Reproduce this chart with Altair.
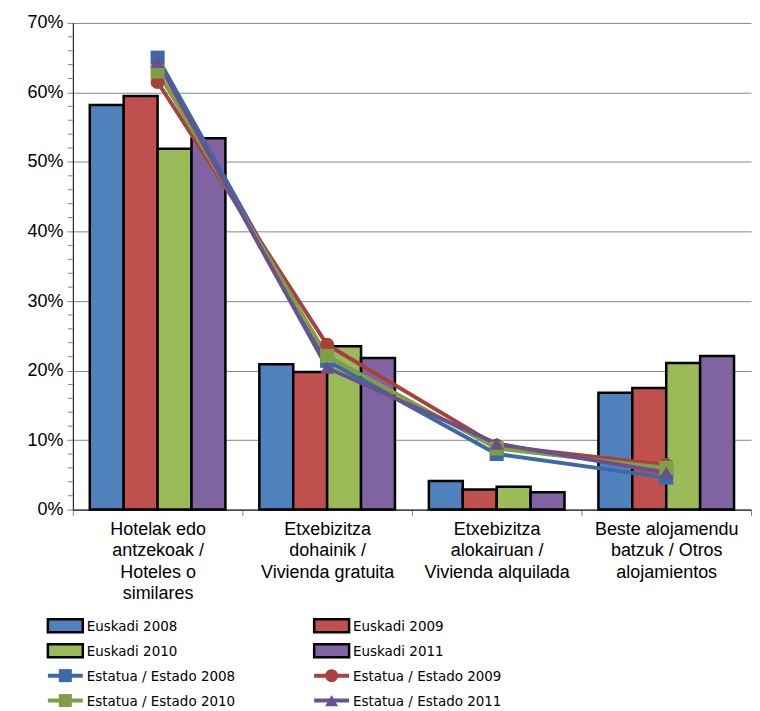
import altair as alt
import pandas as pd

categories = [
    "Hotelak edo|antzekoak /|Hoteles o|similares",
    "Etxebizitza|dohainik /|Vivienda gratuita",
    "Etxebizitza|alokairuan /|Vivienda alquilada",
    "Beste alojamendu|batzuk / Otros|alojamientos",
]
years = ["2008", "2009", "2010", "2011"]

euskadi_2008 = [58.2, 20.9, 4.1, 16.8]
euskadi_2009 = [59.5, 19.8, 2.9, 17.5]
euskadi_2010 = [51.9, 23.5, 3.3, 21.1]
euskadi_2011 = [53.4, 21.8, 2.5, 22.1]

estado_2008 = [65.0, 21.4, 8.0, 4.6]
estado_2009 = [61.5, 23.7, 9.2, 6.4]
estado_2010 = [63.0, 22.1, 8.8, 6.0]
estado_2011 = [64.4, 20.4, 9.5, 5.3]

major_ticks = [0.0, 0.1, 0.2, 0.3, 0.4, 0.5, 0.6, 0.7]
minor_ticks = [0.02, 0.04, 0.06, 0.08, 0.12, 0.14, 0.16, 0.18, 0.22, 0.24, 0.26, 0.28,
               0.32, 0.34, 0.36, 0.38, 0.42, 0.44, 0.46, 0.48, 0.52, 0.54, 0.56, 0.58,
               0.62, 0.64, 0.66, 0.68]

bar_colors = ["#4F81BD", "#C0504D", "#9BBB59", "#8064A2"]
line_colors = ["#3D6AA6", "#A8413D", "#7E9F45", "#69508F"]
line_shapes = ["square", "circle", "square", "triangle-up"]

bar_names = ["Euskadi " + y for y in years]
line_names = ["Estatua / Estado " + y for y in years]

eus = [euskadi_2008, euskadi_2009, euskadi_2010, euskadi_2011]
est = [estado_2008, estado_2009, estado_2010, estado_2011]

bars_df = pd.DataFrame([
    {"cat": c, "series": bar_names[i], "value": eus[i][j] / 100}
    for i in range(4) for j, c in enumerate(categories)
])
lines_df = pd.DataFrame([
    {"cat": c, "series": line_names[i], "value": est[i][j] / 100}
    for i in range(4) for j, c in enumerate(categories)
])
minor_df = pd.DataFrame({"v": minor_ticks})

FONT = "Liberation Sans"
LEG_FONT = "DejaVu Sans Condensed"
W, H = 680, 488

xenc = alt.X(
    "cat:N", sort=categories,
    scale=alt.Scale(paddingInner=0, paddingOuter=0),
    axis=alt.Axis(
        title=None, labelAngle=0, labelExpr="split(datum.label, '|')",
        labelFontSize=18, labelFont=FONT, labelColor="#000000",
        labelLineHeight=21.5, labelPadding=5, tickBand="extent",
        tickSize=6, tickColor="#868686", domainColor="#000000",
        grid=False, labelBaseline="top",
    ),
)
yscale = alt.Scale(domain=[0, 0.7], nice=False)

bars = alt.Chart(bars_df).mark_bar(stroke="#000000", strokeWidth=2.5).encode(
    x=xenc,
    xOffset=alt.XOffset("series:N", sort=bar_names,
                        scale=alt.Scale(paddingInner=0, paddingOuter=0.5)),
    y=alt.Y("value:Q", scale=yscale,
            axis=alt.Axis(
                title=None, format=".0%", values=major_ticks,
                labelFontSize=18, labelFont=FONT, labelColor="#000000",
                labelPadding=4, tickSize=6, tickColor="#868686",
                domainColor="#000000", gridColor="#868686", gridWidth=1,
            )),
    fill=alt.Fill("series:N", sort=bar_names,
                  scale=alt.Scale(domain=bar_names, range=bar_colors), legend=None),
)

minor = alt.Chart(minor_df).mark_rule(color="#868686", strokeWidth=1).encode(
    y=alt.Y("v:Q", scale=yscale),
    x=alt.value(-5),
    x2=alt.value(0),
)

lines = alt.Chart(lines_df).mark_line(strokeWidth=4).encode(
    x=alt.X("cat:N", sort=categories),
    y=alt.Y("value:Q", scale=yscale),
    color=alt.Color("series:N", sort=line_names,
                    scale=alt.Scale(domain=line_names, range=line_colors), legend=None),
)
points = alt.Chart(lines_df).mark_point(filled=True, opacity=1, size=200).encode(
    x=alt.X("cat:N", sort=categories),
    y=alt.Y("value:Q", scale=yscale),
    color=alt.Color("series:N", sort=line_names,
                    scale=alt.Scale(domain=line_names, range=line_colors), legend=None),
    shape=alt.Shape("series:N", sort=line_names,
                    scale=alt.Scale(domain=line_names, range=line_shapes), legend=None),
)

main = alt.layer(bars, minor, lines, points).properties(width=W, height=H)

# ---- custom legend: two columns, four rows ----
leg_labels = bar_names + line_names
leg_kind = ["bar"] * 4 + ["line"] * 4
leg_color = bar_colors + line_colors
leg_shape = ["none"] * 4 + line_shapes
leg_row = [0, 0, 1, 1, 2, 2, 3, 3]
leg_col = [0, 1, 0, 1, 0, 1, 0, 1]

COL_W = 267
SYM_X0 = -25
SYM_W = 35

leg_df = pd.DataFrame({
    "label": leg_labels, "kind": leg_kind, "ccolor": leg_color,
    "shp": leg_shape, "r": leg_row,
    "x0": [c * COL_W + SYM_X0 for c in leg_col],
    "x1": [c * COL_W + SYM_X0 + SYM_W for c in leg_col],
    "xm": [c * COL_W + SYM_X0 + SYM_W / 2 for c in leg_col],
    "xt": [c * COL_W + SYM_X0 + SYM_W + 4 for c in leg_col],
})

lx = alt.Scale(domain=[0, W])
ly = alt.Scale(domain=[0, 1, 2, 3], paddingInner=0, paddingOuter=0)
yrow = alt.Y("r:O", scale=ly, axis=None)
ccol = alt.Color("ccolor:N", scale=None)

leg_base = alt.Chart(leg_df)
leg_rect = leg_base.transform_filter("datum.kind == 'bar'").mark_bar(
    size=13, stroke="#000000", strokeWidth=2.5
).encode(
    x=alt.X("x0:Q", scale=lx, axis=None), x2="x1:Q", y=yrow,
    fill=alt.Fill("ccolor:N", scale=None),
)
leg_rule = leg_base.transform_filter("datum.kind == 'line'").mark_rule(strokeWidth=4).encode(
    x=alt.X("x0:Q", scale=lx, axis=None), x2="x1:Q", y=yrow, color=ccol,
)
leg_pts = []
for shp in ["square", "circle", "triangle-up"]:
    leg_pts.append(
        leg_base.transform_filter(f"datum.shp == '{shp}'").mark_point(
            filled=True, opacity=1, size=170, shape=shp
        ).encode(
            x=alt.X("xm:Q", scale=lx, axis=None), y=yrow, color=ccol,
        )
    )
leg_txt = leg_base.mark_text(
    align="left", baseline="middle", fontSize=15, font=LEG_FONT, color="#000000"
).encode(
    x=alt.X("xt:Q", scale=lx, axis=None), y=yrow, text="label:N",
)

legend = alt.layer(leg_rect, leg_rule, *leg_pts, leg_txt).properties(width=W, height=100)

chart = alt.vconcat(main, legend, spacing=10, padding={"left": 18, "top": 5, "right": 0, "bottom": 0}
                    ).configure_view(stroke=None)

chart.save("out.html", embed_options={"renderer": "svg", "actions": False})
